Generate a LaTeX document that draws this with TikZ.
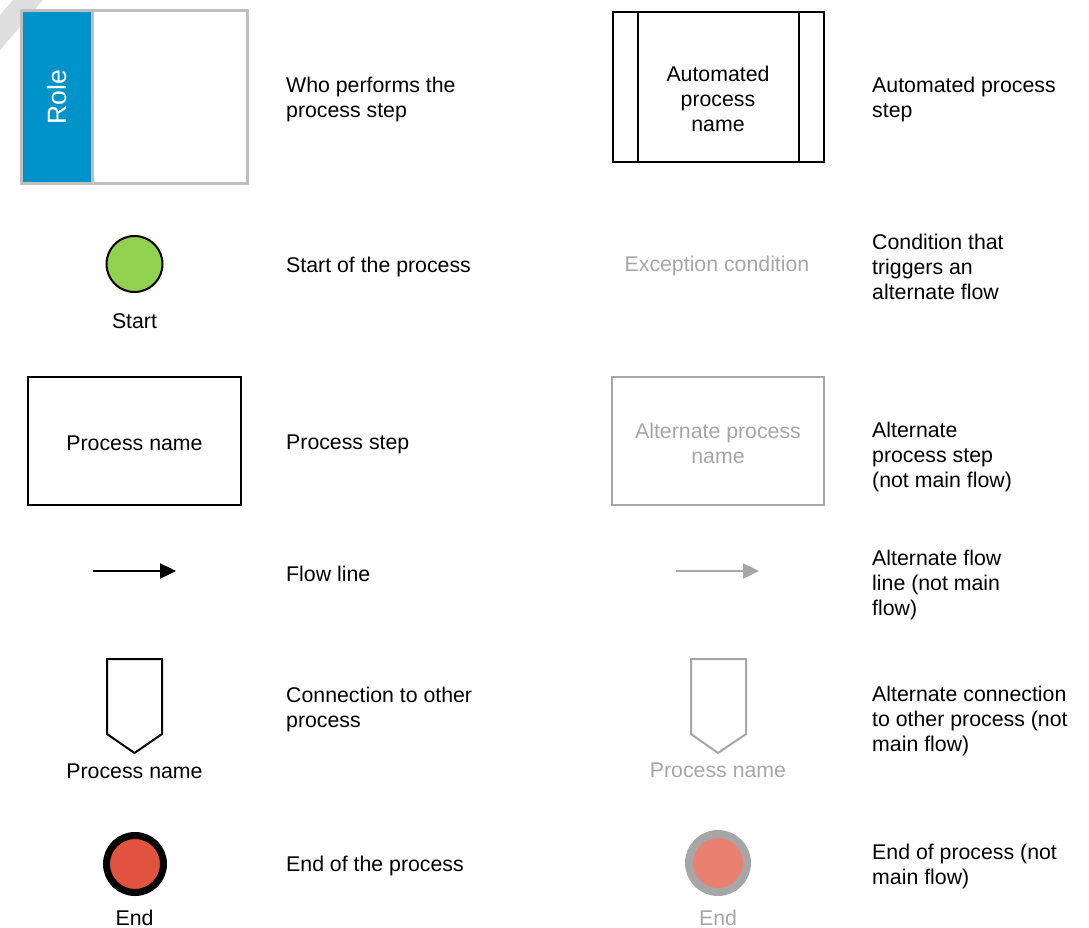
\documentclass[tikz,border=0pt]{standalone}
\usepackage{fontspec}
\setmainfont{Liberation Sans}
\usetikzlibrary{arrows.meta}
\definecolor{roleblue}{RGB}{0,147,201}
\definecolor{framegray}{RGB}{191,191,191}
\definecolor{altgray}{RGB}{166,166,166}
\definecolor{stripegray}{RGB}{222,222,222}
\definecolor{startgreen}{RGB}{146,208,80}
\definecolor{endred}{RGB}{225,82,65}
\definecolor{altred}{RGB}{233,128,112}
\begin{document}
\begin{tikzpicture}[x=1pt,y=-1pt,
  every node/.style={font=\fontsize{21.3}{25}\selectfont, inner sep=0pt},
  desc/.style={anchor=west, align=left, yshift=-2pt},
  label text/.style={align=center},
  boxline/.style={draw=black, line width=2pt},
  altline/.style={draw=altgray, line width=2pt},
  flow/.style={line width=2.4pt, -{Triangle[length=16pt,width=15pt]}}
]
\useasboundingbox (0,0) rectangle (1089,928);

% faint corner stripe
\fill[stripegray] (13,0) -- (43,0) -- (0,50) -- (0,15) -- cycle;

% ---- left column ----
% role lane
\node[fill=white, minimum width=225pt, minimum height=172pt] (rolebox) at (134.5,97) {};
\node[fill=roleblue, minimum width=70pt, minimum height=172pt, anchor=west] (rolestrip) at (rolebox.west) {};
\draw[framegray, line width=3pt] (rolebox.south west) rectangle (rolebox.north east);
\draw[framegray, line width=3pt] (rolestrip.north east) -- (rolestrip.south east);
\node[text=white, rotate=90, font=\fontsize{26.5}{30}\selectfont] (roletext) at (rolestrip.center) {Role};
\node[desc] (roledesc) at (286,97) {Who performs the\\process step};

% start
\node[circle, draw=black, line width=2pt, fill=startgreen, minimum size=56pt] (start) at (134.5,264) {};
\node[label text] (startlbl) at (134.5,321) {Start};
\node[desc] (startdesc) at (286,265) {Start of the process};

% process step
\node[boxline, minimum width=213pt, minimum height=128pt] (proc) at (134.5,441) {};
\node[label text] (proctext) at (134.5,443) {Process name};
\node[desc] (procdesc) at (286,442) {Process step};

% flow line
\coordinate (flowA) at (93,571);
\coordinate (flowB) at (176,571);
\draw[flow, black] (flowA) -- (flowB);
\node[desc] (flowdesc) at (286,572) {Flow line};

% connection to other process
\coordinate (cA) at (107,659);
\coordinate (cB) at (162,659);
\coordinate (cC) at (162,734);
\coordinate (cD) at (134.5,753);
\coordinate (cE) at (107,734);
\draw[boxline, line join=miter] (cA) -- (cB) -- (cC) -- (cD) -- (cE) -- cycle;
\node[label text] (connlbl) at (134.5,771) {Process name};
\node[desc] (conndesc) at (286,707) {Connection to other\\process};

% end
\node[circle, draw=black, line width=7pt, fill=endred, minimum size=57pt] (endc) at (135,864) {};
\node[label text] (endlbl) at (134.5,917.5) {End};
\node[desc] (enddesc) at (286,864) {End of the process};

% ---- right column ----
% automated step
\node[boxline, minimum width=211pt, minimum height=150pt] (auto) at (718,87) {};
\draw[line width=2pt] ([xshift=26pt]auto.north west) -- ([xshift=26pt]auto.south west);
\draw[line width=2pt] ([xshift=-26pt]auto.north east) -- ([xshift=-26pt]auto.south east);
\node[label text] (autotext) at (718,99) {Automated\\process\\name};
\node[desc] (autodesc) at (872,97) {Automated process\\step};

% exception condition
\node[text=altgray, label text] (exc) at (717,266) {Exception condition};
\node[desc] (excdesc) at (872,265) {Condition that\\triggers an\\alternate flow};

% alternate step
\node[altline, minimum width=212pt, minimum height=128pt] (altproc) at (718,441) {};
\node[text=altgray, label text] (altproctext) at (718,443.5) {Alternate process\\name};
\node[desc] (altprocdesc) at (872,455) {Alternate\\process step\\(not main flow)};

% alternate flow line
\coordinate (aflowA) at (676,571);
\coordinate (aflowB) at (759,571);
\draw[flow, altgray] (aflowA) -- (aflowB);
\node[desc] (aflowdesc) at (872,583) {Alternate flow\\line (not main\\flow)};

% alternate connection
\coordinate (acA) at (691,659);
\coordinate (acB) at (746,659);
\coordinate (acC) at (746,734);
\coordinate (acD) at (718,753);
\coordinate (acE) at (691,734);
\draw[altline, line join=miter] (acA) -- (acB) -- (acC) -- (acD) -- (acE) -- cycle;
\node[text=altgray, label text] (aconnlbl) at (718,770) {Process name};
\node[desc] (aconndesc) at (872,719) {Alternate connection\\to other process (not\\main flow)};

% alternate end
\node[circle, draw=altgray, line width=8pt, fill=altred, minimum size=58pt] (aendc) at (718,863) {};
\node[text=altgray, label text] (aendlbl) at (718,917.5) {End};
\node[desc] (aenddesc) at (872,864) {End of process (not\\main flow)};
\end{tikzpicture}
\end{document}
